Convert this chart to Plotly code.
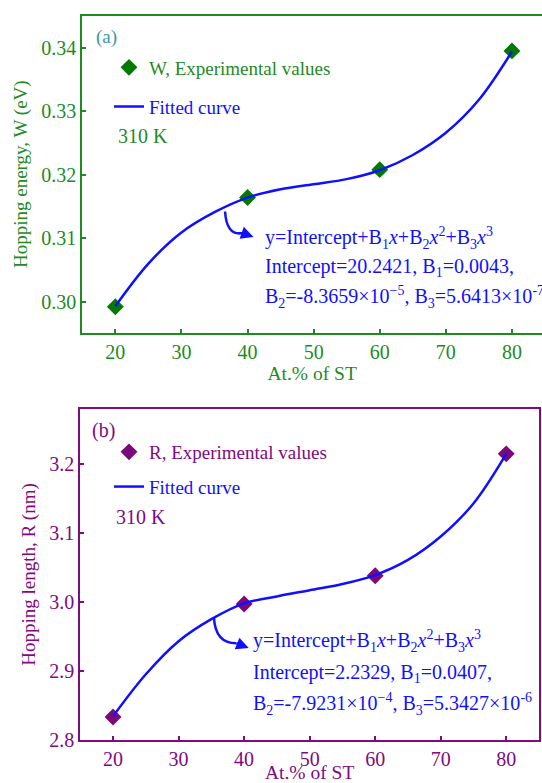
import plotly.graph_objects as go

# ---------------- data ----------------
x_pct = [20, 40, 60, 80]
W_exp = [0.2992, 0.3164, 0.3208, 0.3395]
R_exp = [2.833, 2.997, 3.038, 3.215]

x_fit = [20, 25, 30, 35, 40, 45, 50, 55, 60, 65, 70, 75, 80]
W_fit = [0.2993, 0.3060, 0.3109, 0.3141, 0.3164, 0.3177, 0.3185, 0.3193,
         0.3207, 0.3231, 0.3266, 0.3318, 0.3394]
R_fit = [2.834, 2.895, 2.943, 2.975, 2.998, 3.008, 3.017, 3.026,
         3.039, 3.061, 3.095, 3.143, 3.215]

x_ticks = [20, 30, 40, 50, 60, 70, 80]
W_ticks = [0.30, 0.31, 0.32, 0.33, 0.34]
R_ticks = [2.8, 2.9, 3.0, 3.1, 3.2]

# ---------------- styling ----------------
FW, FH = 542, 783
FONT = "Liberation Serif"
GREEN = "#1f8a1f"
GREEN_M = "#007a00"
TEAL = "#3a9aa2"
PURPLE = "#800a80"
PURPLE_M = "#7a0a7a"
BLUE = "#1010ff"


def px(x):
    return x / FW


def py(y):
    return 1 - y / FH


fig = go.Figure()

# panel (a)
fig.add_trace(go.Scatter(
    x=x_pct, y=W_exp, mode="markers", xaxis="x", yaxis="y",
    marker=dict(symbol="diamond", size=13, color=GREEN_M),
    name=f'<span style="color:{GREEN}">W, Experimental values</span>',
    legend="legend", legendgroup="a1", legendrank=1))
fig.add_trace(go.Scatter(
    x=x_fit, y=W_fit, mode="lines", xaxis="x", yaxis="y",
    line=dict(color=BLUE, width=2.5, shape="spline"),
    name=f'<span style="color:{BLUE}">Fitted curve</span>',
    legend="legend", legendgroup="a2", legendrank=2))

# panel (b)
fig.add_trace(go.Scatter(
    x=x_pct, y=R_exp, mode="markers", xaxis="x2", yaxis="y2",
    marker=dict(symbol="diamond", size=13, color=PURPLE_M),
    name=f'<span style="color:{PURPLE}">R, Experimental values</span>',
    legend="legend2", legendgroup="b1", legendrank=1))
fig.add_trace(go.Scatter(
    x=x_fit, y=R_fit, mode="lines", xaxis="x2", yaxis="y2",
    line=dict(color=BLUE, width=2.5, shape="spline"),
    name=f'<span style="color:{BLUE}">Fitted curve</span>',
    legend="legend2", legendgroup="b2", legendrank=2))


def xaxis(color, domain, rng, anchor):
    return dict(domain=domain, range=rng, anchor=anchor,
                tickvals=x_ticks, ticks="inside", ticklen=4, tickwidth=1.5,
                tickcolor=color, showline=True, linecolor=color, linewidth=2,
                mirror=True, showgrid=False, zeroline=False,
                tickfont=dict(family=FONT, size=20, color=color),
                title=dict(text="At.% of ST", standoff=3,
                           font=dict(family=FONT, size=19.5, color=color)),
                automargin=False)


def yaxis(color, domain, rng, anchor, ticks, fmt, title, mirror):
    return dict(domain=domain, range=rng, anchor=anchor,
                tickvals=ticks, tickformat=fmt, ticks="inside", ticklen=4,
                tickwidth=1.5, tickcolor=color, showline=True, linecolor=color,
                linewidth=2, mirror=mirror, showgrid=False, zeroline=False,
                tickfont=dict(family=FONT, size=20, color=color),
                title=dict(text=title, standoff=9,
                           font=dict(family=FONT, size=19, color=color)),
                automargin=False)


fig.update_layout(
    width=FW, height=FH,
    margin=dict(l=0, r=0, t=0, b=0),
    paper_bgcolor="white", plot_bgcolor="white",
    showlegend=True,
    xaxis=xaxis(GREEN, [px(82.3), 1.0], [15, 15 + (FW - 82.3) / 6.61], "y"),
    yaxis=yaxis(GREEN, [py(332.7), py(15.7)], [0.29512, 0.34504], "x",
                W_ticks, ".2f", "Hopping energy, W (eV)", False),
    xaxis2=xaxis(PURPLE, [px(80.3), px(539)], [15, 85], "y2"),
    yaxis2=yaxis(PURPLE, [py(739.7), py(409.3)], [2.8, 3.2797], "x2",
                 R_ticks, ".1f", "Hopping length, R (nm)", True),
    legend=dict(x=px(109), y=py(48.5), xanchor="left", yanchor="top",
                bgcolor="rgba(0,0,0,0)", font=dict(family=FONT, size=19),
                traceorder="grouped", tracegroupgap=11.5),
    legend2=dict(x=px(109), y=py(433), xanchor="left", yanchor="top",
                 bgcolor="rgba(0,0,0,0)", font=dict(family=FONT, size=19),
                 traceorder="grouped", tracegroupgap=7),
)

ann = []


def text(x, y, s, color, size=19):
    ann.append(dict(x=px(x), y=py(y), xref="paper", yref="paper", text=s,
                    showarrow=False, xanchor="left", yanchor="middle",
                    font=dict(family=FONT, size=size, color=color)))


# panel labels and temperature
text(94, 37, "(a)", TEAL, 19)
text(116, 136, "310 K", GREEN, 20)
text(90, 431, "(b)", PURPLE, 20)
text(114, 517, "310 K", PURPLE, 20)

# equations
eq1 = "y=Intercept+B<sub>1</sub><i>x</i>+B<sub>2</sub><i>x</i><sup>2</sup>+B<sub>3</sub><i>x</i><sup>3</sup>"
text(263, 238, eq1, BLUE, 20)
text(263, 268, "Intercept=20.2421, B<sub>1</sub>=0.0043,", BLUE, 20)
text(263, 297, "B<sub>2</sub>=-8.3659×10<sup>−5</sup>, B<sub>3</sub>=5.6413×10<sup>-7</sup>", BLUE, 20)

text(251, 641, eq1, BLUE, 20)
text(251, 673, "Intercept=2.2329, B<sub>1</sub>=0.0407,", BLUE, 20)
text(251, 704, "B<sub>2</sub>=-7.9231×10<sup>−4</sup>, B<sub>3</sub>=5.3427×10<sup>-6</sup>", BLUE, 20)

# curved arrows (path to near the tip, annotation arrowhead at the tip)
fig.add_shape(type="path", xref="x", yref="y",
              path="M 36.6,0.3142 Q 36.8,0.3104 39.2,0.3108",
              line=dict(color=BLUE, width=2.5))
ann.append(dict(x=40.9, y=0.3102, xref="x", yref="y", ax=39.0, ay=0.3109,
                axref="x", ayref="y", showarrow=True, arrowhead=2,
                arrowsize=1, arrowwidth=2.5, arrowcolor=BLUE, text=""))
fig.add_shape(type="path", xref="x2", yref="y2",
              path="M 35.4,2.977 Q 35.6,2.940 38.8,2.940",
              line=dict(color=BLUE, width=2.5))
ann.append(dict(x=40.7, y=2.933, xref="x2", yref="y2", ax=38.6, ay=2.941,
                axref="x2", ayref="y2", showarrow=True, arrowhead=2,
                arrowsize=1, arrowwidth=2.5, arrowcolor=BLUE, text=""))

fig.update_layout(annotations=ann)

fig.write_html("out.html",
               config={"displayModeBar": False},
               post_script="document.body.style.margin='0px';"
                           "document.body.style.overflow='hidden';")
